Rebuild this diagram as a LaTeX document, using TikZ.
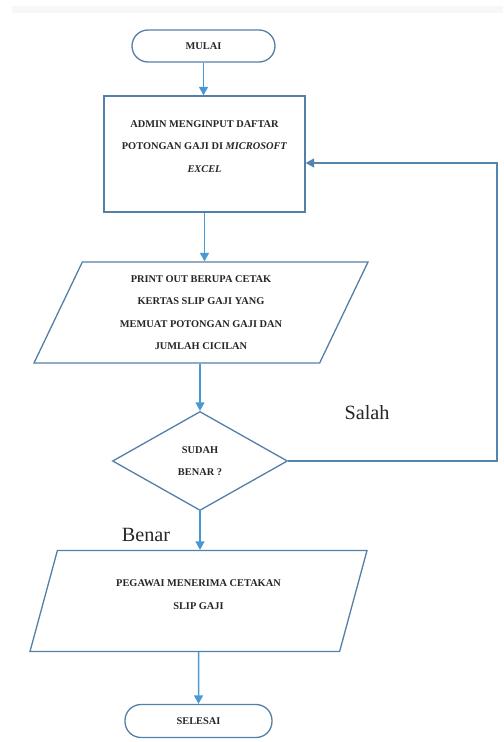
\documentclass[tikz,border=0pt]{standalone}
\usepackage{fontspec}
\setmainfont{Liberation Serif}
\usetikzlibrary{arrows.meta,shapes.geometric,calc}
\definecolor{edgeblue}{RGB}{84,128,168}
\definecolor{flowblue}{RGB}{72,152,212}
\definecolor{stripgray}{RGB}{247,247,247}
\tikzset{
  flow/.style={-{Triangle[length=1.7mm,width=1.8mm]},draw=flowblue,line width=0.85pt},
  back/.style={flow,draw=edgeblue!80!flowblue},
  shapetext/.style={font=\bfseries\fontsize{5.9}{12.8}\selectfont,align=center,text=black!85},
  terminal/.style={shapetext,draw=edgeblue,line width=0.75pt,rounded corners=0.32cm,
                   minimum width=2.86cm,minimum height=0.64cm,inner sep=0pt},
  process/.style={shapetext,draw=edgeblue,line width=0.75pt,minimum width=4.02cm,
                  minimum height=2.32cm,inner sep=0pt},
  inout/.style={shapetext,draw=edgeblue,line width=0.75pt,trapezium,
                trapezium left angle=57,trapezium right angle=123,trapezium stretches body,
                minimum height=2.02cm,inner sep=0pt},
  decision/.style={shapetext,draw=edgeblue,line width=0.75pt,diamond,
                   minimum width=3.5cm,minimum height=1.98cm,inner sep=0pt},
  lab/.style={font=\fontsize{11.5}{13}\selectfont,text=black!85},
}
\begin{document}
\begin{tikzpicture}[x=1cm,y=1cm]
  \path[use as bounding box] (0,0) rectangle (10.06,14.84);
  \fill[stripgray] (0.24,14.58) rectangle (10.06,14.72);

  \node[terminal] (mulai) at (4.07,13.92) {MULAI};
  \node[process] (input) at (4.09,11.76)
    {ADMIN MENGINPUT DAFTAR\\POTONGAN GAJI DI \textit{MICROSOFT}\\\textit{EXCEL}\\[-4pt]};
  \node[inout,minimum width=6.68cm] (cetak) at (4.02,8.59)
    {PRINT OUT BERUPA CETAK\\KERTAS SLIP GAJI YANG\\MEMUAT POTONGAN GAJI DAN\\JUMLAH CICILAN};
  \node[decision] (cek) at (4.0,5.62) {SUDAH\\BENAR ?};
  \node[inout,minimum width=6.74cm] (terima) at (3.97,2.82)
    {PEGAWAI MENERIMA CETAKAN\\SLIP GAJI\\[-5.5pt]};
  \node[terminal,minimum width=2.94cm,minimum height=0.66cm] (selesai) at (3.97,0.42) {SELESAI};

  \node[lab] (salah) at (7.34,6.58) {Salah};
  \node[lab] (benar) at (2.92,4.14) {Benar};

  \coordinate (loop) at (9.94,5.62);
  \coordinate (masuk) at ($(input.east)+(0,-0.18)$);

  \draw[flow] (mulai.south) -- (mulai.south |- input.north);
  \draw[flow] (input.south) -- (input.south |- cetak.north);
  \draw[flow] (cetak.south -| cek.north) -- (cek.north);
  \draw[flow] (cek.south) -- (cek.south |- terima.north);
  \draw[flow] (terima.south) -- (selesai.north);
  \draw[back] (cek.east) -- (loop) |- (masuk);
\end{tikzpicture}
\end{document}
